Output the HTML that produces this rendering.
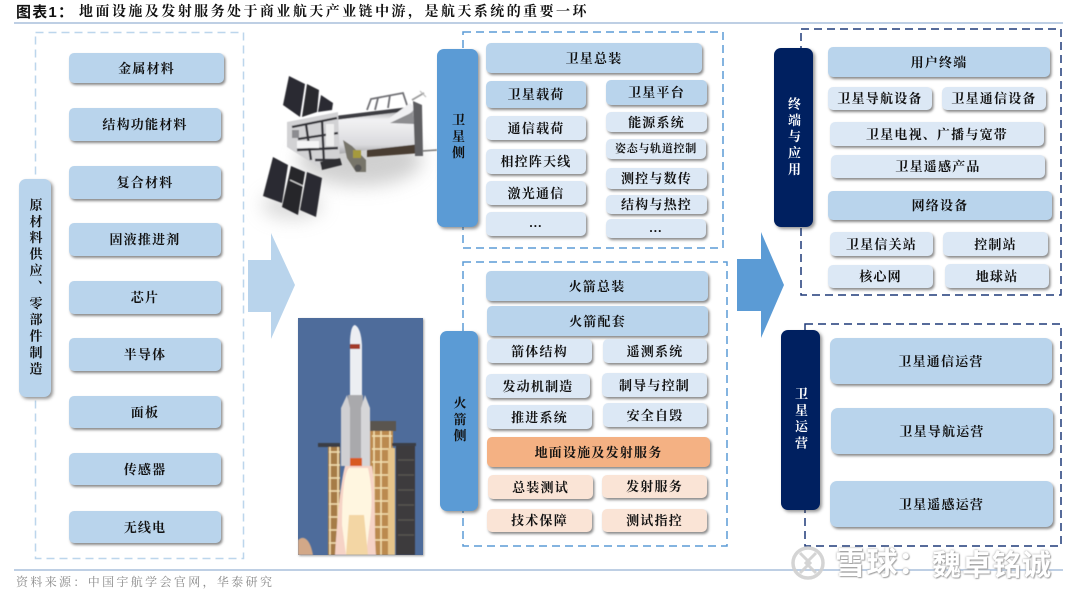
<!DOCTYPE html>
<html lang="zh">
<head>
<meta charset="utf-8">
<style>
html,body{margin:0;padding:0;background:#fff}
body{width:1080px;height:598px;overflow:hidden;position:relative;font-family:"Liberation Serif","Noto Serif CJK SC",serif;color:#111}
.b{position:absolute;box-sizing:border-box;padding-bottom:2px;display:flex;align-items:center;justify-content:center;border-radius:5px;font-size:13px;letter-spacing:1.2px;font-weight:700;box-shadow:1.5px 2px 2.5px rgba(60,60,60,.6);white-space:nowrap;filter:blur(.3px)}
.m{background:#b9d4ec}
.l{background:#dce8f5}
.o{background:#f4b183}
.p{background:#fae4d6}
.s{position:absolute;display:flex;align-items:center;justify-content:center;border-radius:7px;font-size:13px;font-weight:700;letter-spacing:3.4px;writing-mode:vertical-rl;text-orientation:upright;box-shadow:2px 2px 3px rgba(60,60,60,.55);filter:blur(.3px)}
.blue{background:#5b9bd5}
.navy{background:#002060;color:#fff}
.t{position:absolute;white-space:nowrap}
svg{position:absolute;left:0;top:0}
</style>
</head>
<body>

<div class="t" style="left:16px;top:4px;font-size:15px;line-height:17px;font-weight:700;letter-spacing:1.2px;font-family:'Liberation Sans','Noto Sans CJK SC',sans-serif;filter:blur(.25px)">图表1：</div>
<div class="t" style="left:79px;top:4px;font-size:14px;line-height:17px;font-weight:700;letter-spacing:2.45px;filter:blur(.25px)">地面设施及发射服务处于商业航天产业链中游，是航天系统的重要一环</div>

<svg width="1080" height="598" viewBox="0 0 1080 598">
  <defs>
    <filter id="f1"><feGaussianBlur stdDeviation="0.6"/></filter>
    <filter id="f2" x="-50%" y="-80%" width="200%" height="260%"><feGaussianBlur stdDeviation="9"/></filter>
    <filter id="f4"><feGaussianBlur stdDeviation="1"/></filter>
    <linearGradient id="bodyg" x1="0" y1="0" x2="0" y2="1">
      <stop offset="0" stop-color="#8d8d90"/><stop offset=".25" stop-color="#f2f2f4"/><stop offset=".8" stop-color="#dadadd"/><stop offset="1" stop-color="#a8a8aa"/>
    </linearGradient>
  </defs>
  <line x1="14" y1="23" x2="1063" y2="23" stroke="#a9bfdc" stroke-width="1.5"/>
  <line x1="14" y1="570" x2="1063" y2="570" stroke="#a9bfdc" stroke-width="1.5"/>

  <rect x="35.5" y="32.5" width="208" height="526" fill="none" stroke="#bcd6ec" stroke-width="1.5" stroke-dasharray="8 5"/>
  <rect x="463" y="32" width="260" height="216" fill="none" stroke="#5b9bd5" stroke-width="1.5" stroke-dasharray="8 5"/>
  <rect x="463" y="262" width="264" height="284" fill="none" stroke="#5b9bd5" stroke-width="1.5" stroke-dasharray="8 5"/>
  <rect x="801" y="29" width="260" height="266" fill="none" stroke="#1f3a78" stroke-width="1.5" stroke-dasharray="8 5"/>
  <rect x="805" y="324" width="256" height="222" fill="none" stroke="#1f3a78" stroke-width="1.5" stroke-dasharray="8 5"/>

  <polygon points="248,260 271,260 271,233 295,285 271,339 271,312 248,312" fill="#b9d4ec"/>
  <polygon points="737,259 761,259 761,232 784,285 761,338 761,311 737,311" fill="#5b9bd5"/>

  <!-- satellite -->
  <ellipse cx="360" cy="160" rx="62" ry="26" fill="#aaa" opacity=".55" filter="url(#f2)"/>
  <ellipse cx="292" cy="205" rx="30" ry="14" fill="#bbb" opacity=".55" filter="url(#f2)"/>
  <g filter="url(#f1)">
    <polygon points="289,76 305,84 300,117 283,105" fill="#2c2c30"/>
    <polygon points="307,84 319,90 317,112 302,117" fill="#2a2a2e"/>
    <polygon points="321,95 333,103 332,110 318,112" fill="#2c2c30"/>
    <polygon points="273,157 288,165 282,203 263,196" fill="#2c2c30"/>
    <polygon points="291,166 305,172 298,215 282,207" fill="#26262a"/>
    <polygon points="307,172 322,178 316,217 300,210" fill="#2c2c30"/>
    <line x1="290" y1="180" x2="303" y2="186" stroke="#ddd" stroke-width="1.2"/>

    <path d="M367 110 L371 99 L403 93 L408 108 M378 98 L375 110 M390 95 L388 108" stroke="#707074" stroke-width="1.8" fill="none"/>
    <polygon points="335,118 417,108 420,144 367,150 338,154" fill="url(#bodyg)"/>
    <polygon points="335,116 417,106 417,110 335,120" fill="#3d3d42"/>
    <polygon points="367,150 420,144 421,153 367,157" fill="#4a3c32"/>
    <polygon points="387,120 410,103 416,108 395,126" fill="#f0f0f2"/>
    <polygon points="390,123 413,112 414,124" fill="#8d8d90"/>
    <polygon points="413,101 422,105 423,156 415,156" fill="#5e5e62"/>
    <line x1="412" y1="100" x2="424" y2="93" stroke="#999" stroke-width="1.6"/>
    <line x1="420" y1="91" x2="426" y2="97" stroke="#bbb" stroke-width="1.2"/>
    <line x1="422" y1="151" x2="437" y2="150" stroke="#777" stroke-width="1.6"/>

    <polygon points="287,122 338,112 340,163 320,168 287,147" fill="#d2d2d4"/>
    <path d="M292 127 L337 118 M298 139 L338 133 M306 124 L311 160 M322 120 L324 164 M297 150 L338 148 M315 160 L339 160" stroke="#333338" stroke-width="2.4" fill="none"/>
    <rect x="297" y="141" width="22" height="7" fill="#f4f4f5"/>
    <rect x="326" y="124" width="8" height="22" fill="#efefef"/>
    <path d="M292 130 h7 v8 h-7z" fill="#8c8c90"/>
    <polygon points="320,162 340,158 342,165 322,170" fill="#2d2d30"/>
    <polygon points="343,140 352,146 366,160 366,172 356,172 347,158" fill="#77746a"/>
    <rect x="353" y="150" width="8" height="8" fill="#a59a3c"/>
    <circle cx="358" cy="168" r="3.5" fill="#555"/>
  </g>

  <!-- rocket -->
  <rect x="299" y="319" width="125" height="237" fill="#777" opacity=".7" filter="url(#f4)"/>
  <svg x="298" y="318" width="125" height="237" viewBox="298 318 125 237">
    <rect x="298" y="318" width="125" height="237" fill="#4e6c9b"/>
    <g filter="url(#f1)">
      <rect x="396" y="443" width="19" height="112" fill="#3c3a3e"/>
      <path d="M398 460H414M398 475H414M398 490H414M398 505H414M398 520H414M398 535H414" stroke="#58554f" stroke-width="1.5"/>
      <rect x="370" y="430" width="23" height="125" fill="#bb8a4f"/>
      <path d="M372 436H392M372 449H392M372 462H392M372 475H392M372 488H392M372 501H392M372 514H392M372 527H392M372 540H392M374 430V555M381 430V555M390 430V555" stroke="#f3dfb0" stroke-width="1.5" fill="none"/>
      <rect x="388" y="448" width="7" height="107" fill="#e6c48a"/>
      <rect x="328" y="445" width="12" height="110" fill="#a67b47"/>
      <path d="M329 452H340M329 465H340M329 478H340M329 491H340M329 504H340M329 517H340M329 530H340M329 543H340M330 445V555M338 445V555" stroke="#f3dfb0" stroke-width="1.5" fill="none"/>
      <rect x="318" y="443" width="22" height="4" fill="#3b3d44"/>
      <rect x="392" y="443" width="24" height="3" fill="#3b3d44"/>
      <rect x="370" y="421" width="26" height="10" fill="#5a5550"/>
      <path d="M335 555 C337 520 341 480 345 466 L372 466 C376 490 374 530 376 555Z" fill="#f6d3c6"/>
      <path d="M342 525 C342 490 345 472 349 468 L368 468 C373 490 372 510 369 530 L366 555 L346 555Z" fill="#fff6e0"/>
      <path d="M346 555 L349 515 L364 515 L368 555Z" fill="#f3d6a4"/>
      <path d="M298 555 L298 540 C303 535 310 538 313 555Z" fill="#d2a888"/>
      <path d="M350 340 Q351 325 355 325 Q361 328 362 345 L362 395 L350 395Z" fill="#eceef2"/>
      <rect x="350" y="344" width="10" height="5" fill="#a33a2a"/>
      <rect x="348" y="395" width="15" height="70" fill="#a9a9ac"/>
      <polygon points="341,408 347,395 350,408 350,466 341,466" fill="#cfcfd2"/>
      <polygon points="361,408 365,395 370,408 370,466 361,466" fill="#d6d6d8"/>
      <rect x="350" y="458" width="12" height="8" fill="#d85a20"/>
    </g>
  </svg>

  <!-- watermark -->
  <g fill="none" opacity=".9">
    <circle cx="808" cy="563" r="15" stroke="#d0d0d0" stroke-width="3.5"/>
    <path d="M800 553 L810 563 L800 573 M816 553 L806 563 L816 573" stroke="#d0d0d0" stroke-width="3"/>
  </g>
</svg>

<div class="t" style="left:835px;top:544px;font-size:31px;line-height:40px;font-weight:700;letter-spacing:.5px;color:#fff;font-family:'Liberation Sans','Noto Sans CJK SC',sans-serif;text-shadow:0 0 2px #999,1px 1px 1px #aaa">雪球：</div>
<div class="t" style="left:932px;top:547px;font-size:29px;line-height:38px;font-weight:700;letter-spacing:1px;color:#fff;font-family:'Liberation Sans','Noto Sans CJK SC',sans-serif;text-shadow:0 0 2px #999,1px 1px 1px #aaa">魏卓铭诚</div>

<div class="t" style="left:16px;top:574px;font-size:12px;line-height:17px;letter-spacing:2.35px;color:#8a8a8a;filter:blur(.25px)">资料来源：中国宇航学会官网，华泰研究</div>

<!-- left column -->
<div class="s m" style="left:19px;top:179px;width:32px;height:218px;letter-spacing:3.4px">原材料供应、零部件制造</div>
<div class="b m" style="left:69px;top:53px;width:155px;height:30px">金属材料</div>
<div class="b m" style="left:69px;top:108px;width:152px;height:33px">结构功能材料</div>
<div class="b m" style="left:69px;top:166px;width:152px;height:33px">复合材料</div>
<div class="b m" style="left:69px;top:223px;width:152px;height:33px">固液推进剂</div>
<div class="b m" style="left:69px;top:281px;width:152px;height:33px">芯片</div>
<div class="b m" style="left:69px;top:338px;width:152px;height:33px">半导体</div>
<div class="b m" style="left:69px;top:396px;width:152px;height:32px">面板</div>
<div class="b m" style="left:69px;top:453px;width:152px;height:32px">传感器</div>
<div class="b m" style="left:69px;top:511px;width:152px;height:32px">无线电</div>

<!-- satellite side -->
<div class="s blue" style="left:437px;top:49px;width:41px;height:178px">卫星侧</div>
<div class="b m" style="left:486px;top:43px;width:216px;height:30px">卫星总装</div>
<div class="b m" style="left:486px;top:81px;width:100px;height:27px">卫星载荷</div>
<div class="b l" style="left:486px;top:116px;width:100px;height:24px">通信载荷</div>
<div class="b l" style="left:486px;top:149px;width:100px;height:25px">相控阵天线</div>
<div class="b l" style="left:486px;top:181px;width:100px;height:24px">激光通信</div>
<div class="b l" style="left:486px;top:212px;width:100px;height:24px">…</div>
<div class="b m" style="left:606px;top:80px;width:101px;height:25px">卫星平台</div>
<div class="b l" style="left:606px;top:112px;width:101px;height:20px">能源系统</div>
<div class="b l" style="left:606px;top:139px;width:100px;height:20px;font-size:11px;letter-spacing:.7px">姿态与轨道控制</div>
<div class="b l" style="left:606px;top:168px;width:101px;height:21px">测控与数传</div>
<div class="b l" style="left:606px;top:195px;width:101px;height:19px">结构与热控</div>
<div class="b l" style="left:606px;top:219px;width:100px;height:19px">…</div>

<!-- rocket side -->
<div class="s blue" style="left:440px;top:331px;width:38px;height:180px">火箭侧</div>
<div class="b m" style="left:486px;top:271px;width:222px;height:30px">火箭总装</div>
<div class="b m" style="left:487px;top:306px;width:221px;height:30px">火箭配套</div>
<div class="b l" style="left:487px;top:339px;width:105px;height:24px">箭体结构</div>
<div class="b l" style="left:603px;top:339px;width:104px;height:24px">遥测系统</div>
<div class="b l" style="left:486px;top:374px;width:104px;height:24px">发动机制造</div>
<div class="b l" style="left:602px;top:373px;width:105px;height:24px">制导与控制</div>
<div class="b l" style="left:487px;top:405px;width:105px;height:24px">推进系统</div>
<div class="b l" style="left:603px;top:403px;width:104px;height:24px">安全自毁</div>
<div class="b o" style="left:487px;top:437px;width:223px;height:30px">地面设施及发射服务</div>
<div class="b p" style="left:488px;top:475px;width:105px;height:24px">总装测试</div>
<div class="b p" style="left:602px;top:475px;width:105px;height:23px">发射服务</div>
<div class="b p" style="left:487px;top:509px;width:105px;height:23px">技术保障</div>
<div class="b p" style="left:602px;top:509px;width:105px;height:23px">测试指控</div>

<!-- terminal -->
<div class="s navy" style="left:774px;top:48px;width:39px;height:179px">终端与应用</div>
<div class="b m" style="left:828px;top:47px;width:222px;height:30px">用户终端</div>
<div class="b l" style="left:828px;top:87px;width:104px;height:23px">卫星导航设备</div>
<div class="b l" style="left:942px;top:87px;width:104px;height:23px">卫星通信设备</div>
<div class="b l" style="left:830px;top:122px;width:214px;height:24px">卫星电视、广播与宽带</div>
<div class="b l" style="left:831px;top:155px;width:214px;height:23px">卫星遥感产品</div>
<div class="b m" style="left:828px;top:191px;width:224px;height:29px">网络设备</div>
<div class="b l" style="left:830px;top:232px;width:103px;height:24px">卫星信关站</div>
<div class="b l" style="left:943px;top:232px;width:105px;height:24px">控制站</div>
<div class="b l" style="left:828px;top:265px;width:105px;height:23px">核心网</div>
<div class="b l" style="left:945px;top:264px;width:104px;height:24px">地球站</div>

<!-- operation -->
<div class="s navy" style="left:781px;top:330px;width:39px;height:180px">卫星运营</div>
<div class="b m" style="left:830px;top:338px;width:222px;height:46px;border-radius:7px">卫星通信运营</div>
<div class="b m" style="left:831px;top:408px;width:222px;height:46px;border-radius:7px">卫星导航运营</div>
<div class="b m" style="left:830px;top:481px;width:223px;height:46px;border-radius:7px">卫星遥感运营</div>

</body>
</html>
